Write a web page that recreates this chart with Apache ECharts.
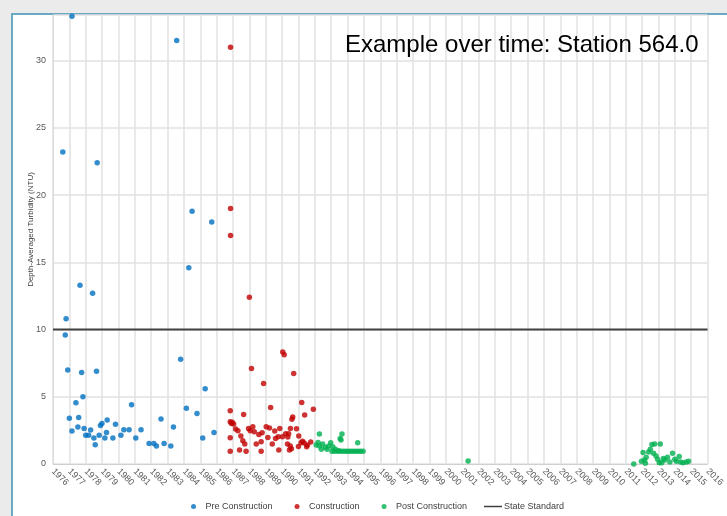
<!DOCTYPE html>
<html>
<head>
<meta charset="utf-8">
<script src="https://cdn.jsdelivr.net/npm/echarts@6/dist/echarts.min.js"></script>
<style>
html,body{margin:0;padding:0;background:#ebebeb;}
#chart{width:727px;height:516px;}
</style>
</head>
<body>
<div id="chart"></div>
<script>
// ---- Data (year as decimal, turbidity NTU) ----
const titleText = "Example over time: Station 564.0";
const yAxisName = "Depth-Averaged Turbidity (NTU)";
const xMin = 1976, xMax = 2016;
const yTicks = [0, 5, 10, 15, 20, 25, 30];
const stateStandard = 10;

const preConstruction = [
  [1976.6,23.2],[1977.16,33.3],[1978.7,22.4],[1983.56,31.5],[1984.5,18.8],[1984.3,14.6],[1985.7,18.0],
  [1977.65,13.3],[1978.42,12.7],[1976.8,10.8],[1976.75,9.6],[1976.9,7.0],[1977.75,6.8],[1978.66,6.9],
  [1983.8,7.8],[1985.3,5.6],[1977.4,4.55],[1977.83,5.0],[1980.8,4.4],[1984.15,4.15],[1984.8,3.75],
  [1977.0,3.4],[1977.57,3.45],[1982.6,3.35],[1977.16,2.45],[1977.52,2.75],[1977.9,2.65],[1978.0,2.13],
  [1978.18,2.13],[1978.3,2.52],[1978.5,1.93],[1978.58,1.43],[1978.82,2.13],[1978.9,2.87],[1978.99,3.02],
  [1979.17,1.93],[1979.27,2.35],[1979.31,3.27],[1979.66,1.93],[1979.82,2.95],[1980.15,2.13],[1980.33,2.55],
  [1980.65,2.55],[1981.06,1.93],[1981.38,2.55],[1981.87,1.53],[1982.16,1.53],[1982.32,1.34],[1982.79,1.53],
  [1983.2,1.34],[1983.36,2.75],[1985.15,1.93],[1985.84,2.35]
];

const construction = [
  [1986.85,31.0],[1986.85,19.0],[1986.85,17.0],[1988.0,12.4],[1990.04,8.34],[1990.13,8.12],[1988.13,7.1],
  [1990.71,6.73],[1988.87,5.99],[1991.2,4.58],[1989.3,4.2],[1991.91,4.08],[1986.83,3.96],[1987.65,3.69],
  [1990.65,3.49],[1990.6,3.32],[1991.38,3.64],[1986.83,3.14],[1986.9,3.02],[1987.04,2.97],[1987.16,2.6],
  [1987.3,2.47],[1987.95,2.65],[1988.21,2.77],[1988.05,2.47],[1989.03,2.77],[1989.23,2.67],[1989.55,2.45],
  [1989.86,2.65],[1990.22,2.25],[1990.4,2.25],[1990.51,2.65],[1990.88,2.62],[1991.02,2.08],[1986.83,1.95],
  [1987.48,2.08],[1988.58,2.2],[1988.78,2.32],[1989.13,1.98],[1989.76,2.03],[1990.02,2.03],[1991.16,1.58],
  [1991.35,1.56],[1991.55,1.41],[1991.75,1.63],[1987.6,1.73],[1987.72,1.48],[1988.42,1.48],[1988.72,1.66],
  [1989.4,1.48],[1990.33,1.48],[1990.5,1.34],[1990.57,1.14],[1986.83,0.94],[1987.4,1.04],[1987.8,0.94],
  [1988.72,0.94],[1989.8,1.04],[1990.45,1.04],[1991.5,1.29],[1986.95,3.1],[1988.3,2.4],[1989.6,1.9],
  [1990.35,2.0],[1991.0,1.3],[1991.25,1.7]
];

const postConstruction = [
  [1992.28,2.23],[1992.08,1.41],[1992.28,1.34],[1992.48,1.48],[1992.65,1.24],[1992.85,1.34],[1992.97,1.58],
  [1993.1,1.29],[1993.26,1.09],[1993.46,0.99],[1993.55,1.9],[1993.66,2.23],[1993.6,1.78],[1994.62,1.58],
  [1992.2,1.6],[1992.4,1.1],[1992.75,1.1],
  [1993.05,0.95],[1993.2,0.95],[1993.4,0.95],[1993.6,0.95],[1993.75,0.95],[1993.9,0.95],[1994.05,0.95],
  [1994.2,0.95],[1994.35,0.95],[1994.5,0.95],[1994.65,0.95],[1994.8,0.95],[1994.95,0.95],
  [2001.37,0.22],
  [2011.49,0.0],[2011.96,0.2],[2012.06,0.85],[2012.15,0.3],[2012.25,0.5],[2012.4,0.9],[2012.5,1.1],
  [2012.6,1.45],[2012.77,1.48],[2012.7,0.8],[2012.85,0.6],[2013.11,1.48],[2012.95,0.35],[2013.05,0.1],
  [2013.2,0.1],[2013.3,0.4],[2013.4,0.3],[2013.55,0.5],[2013.7,0.15],[2013.86,0.8],[2014.0,0.35],
  [2014.1,0.2],[2014.27,0.55],[2014.35,0.15],[2014.5,0.1],[2014.7,0.15],[2014.84,0.2],[2012.2,0.05]
];

const standardLine = [[xMin, stateStandard], [xMax, stateStandard]];

// ---- Chart ----
const FONT = "Liberation Sans, Arial, sans-serif";
const chart = echarts.init(document.getElementById('chart'), null, {renderer: 'canvas'});
chart.setOption({
  backgroundColor: '#ebebeb',
  animation: false,
  graphic: [
    {type: 'rect', z: -10, shape: {x: 12, y: 14, width: 730, height: 520},
     style: {fill: '#ffffff', stroke: '#6aa9c2', lineWidth: 2}}
  ],
  title: {
    text: titleText, left: 340, top: 28,
    textStyle: {fontFamily: FONT, fontSize: 24, fontWeight: 'normal', color: '#000000'}
  },
  legend: [
    {
      data: ['Pre Construction', 'Construction', 'Post Construction'],
      left: 186, top: 497, icon: 'circle', itemWidth: 14, itemHeight: 5, itemGap: 22,
      textStyle: {fontFamily: FONT, fontSize: 9, color: '#404040'}
    },
    {
      data: ['State Standard'],
      left: 479, top: 497, icon: 'rect', itemWidth: 18, itemHeight: 1.5,
      textStyle: {fontFamily: FONT, fontSize: 9, color: '#404040', padding: [0, 0, 0, -3]}
    }
  ],
  grid: {left: 53, right: 19, top: 15, bottom: 52},
  xAxis: {
    type: 'value', min: xMin, max: xMax, interval: 1,
    axisLine: {show: true, lineStyle: {color: '#d0d0d0', width: 1}},
    axisTick: {show: false},
    splitLine: {show: true, lineStyle: {color: '#e2e2e2', width: 1.5}},
    axisLabel: {
      rotate: -45, fontFamily: FONT, fontSize: 9, color: '#595959', margin: 6,
      formatter: v => String(v)
    }
  },
  yAxis: {
    type: 'value', min: 0, max: 33.4, interval: 5,
    name: yAxisName, nameLocation: 'middle', nameGap: 18, nameRotate: 90, nameMoveOverlap: false,
    nameTextStyle: {fontFamily: FONT, fontSize: 8, color: '#404040', padding: [0, 0, 0, 20]},
    axisLine: {show: true, lineStyle: {color: '#d9d9d9'}},
    axisTick: {show: false},
    splitLine: {show: true, lineStyle: {color: '#e2e2e2', width: 1.5}},
    axisLabel: {
      fontFamily: FONT, fontSize: 9, color: '#595959', margin: 7, showMaxLabel: false,
      formatter: v => (yTicks.indexOf(v) >= 0 ? String(v) : '')
    }
  },
  series: [
    {name: 'Pre Construction', type: 'scatter', data: preConstruction, symbolSize: 5.5,
     itemStyle: {color: '#0070c0'}},
    {name: 'Construction', type: 'scatter', data: construction, symbolSize: 5.5,
     itemStyle: {color: '#c00000'}},
    {name: 'Post Construction', type: 'scatter', data: postConstruction, symbolSize: 5.5,
     itemStyle: {color: '#00b050'}},
    {name: 'State Standard', type: 'line', data: standardLine, symbol: 'none', z: 1,
     lineStyle: {color: '#404040', width: 2}, itemStyle: {color: '#404040'}}
  ]
});
</script>
</body>
</html>
